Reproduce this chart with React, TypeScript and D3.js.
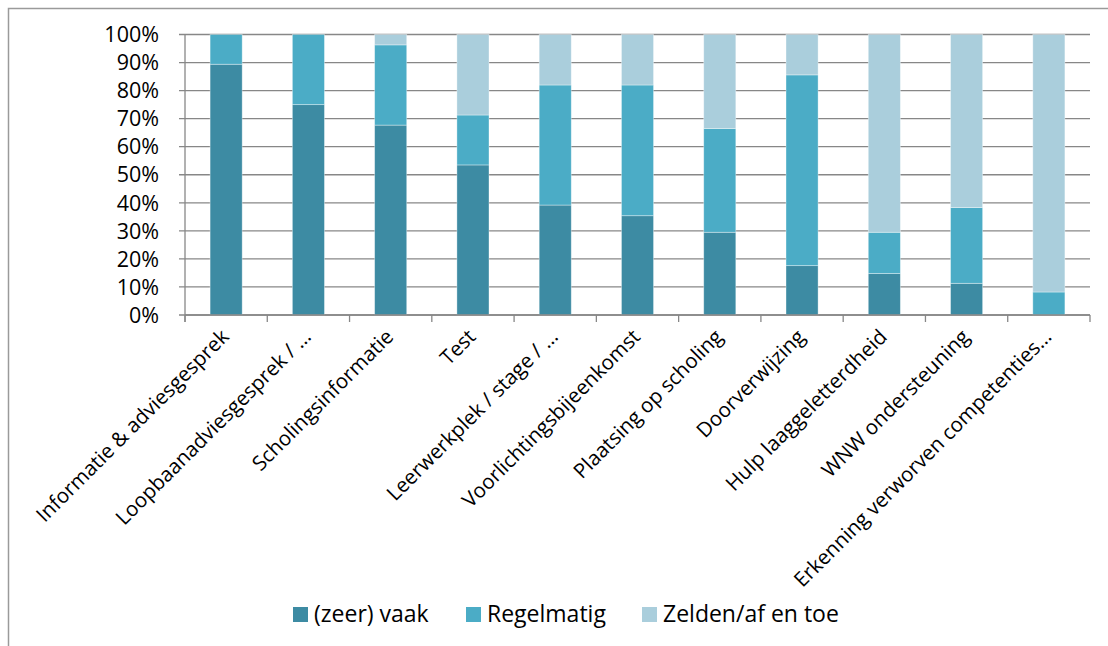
import React from "react";
import * as d3 from "d3";

const categories = [
  "Informatie & adviesgesprek",
  "Loopbaanadviesgesprek / …",
  "Scholingsinformatie",
  "Test",
  "Leerwerkplek / stage / …",
  "Voorlichtingsbijeenkomst",
  "Plaatsing op scholing",
  "Doorverwijzing",
  "Hulp laaggeletterdheid",
  "WNW ondersteuning",
  "Erkenning verworven competenties…",
];

const seriesNames = ["(zeer) vaak", "Regelmatig", "Zelden/af en toe"];
const vaak = [89.4, 75.0, 67.7, 53.5, 39.2, 35.4, 29.5, 17.6, 14.8, 11.3, 0];
const regelmatig = [10.6, 25.0, 28.6, 17.8, 42.8, 46.6, 37.0, 68.0, 14.7, 27.0, 8.2];
const zelden = [0, 0, 3.7, 28.7, 18.0, 18.0, 33.5, 14.4, 70.5, 61.7, 91.8];
const yTicks = [0, 10, 20, 30, 40, 50, 60, 70, 80, 90, 100];

const colors = ["#3D8BA3", "#4BACC6", "#AACEDC"];
const FONT = "'Open Sans', sans-serif";

export default function App() {
  const W = 1108;
  const H = 646;
  const left = 185;
  const right = 1090;
  const top = 34.5;
  const bottom = 315;

  const x = d3
    .scaleBand<string>()
    .domain(categories)
    .range([left, right])
    .paddingInner(0.61)
    .paddingOuter(0.305);
  const y = d3.scaleLinear().domain([0, 100]).range([bottom, top]);

  const rows = categories.map((c, i) => {
    const total = vaak[i] + regelmatig[i] + zelden[i];
    return {
      cat: c,
      vaak: (vaak[i] / total) * 100,
      regelmatig: (regelmatig[i] / total) * 100,
      zelden: (zelden[i] / total) * 100,
    };
  });
  const stack = d3.stack<any>().keys(["vaak", "regelmatig", "zelden"]);
  const stacked = stack(rows);

  const step = x.step();
  const boundaries = d3.range(categories.length + 1).map((i) => left + i * step);

  const legendItems = [
    { sx: 293, tx: 314 },
    { sx: 466, tx: 487 },
    { sx: 642, tx: 663 },
  ];

  return (
    <svg
      width={W}
      height={H}
      style={{ position: "absolute", left: 0, top: 0, background: "#fff" }}
    >
      <rect x={8.5} y={8.5} width={1200} height={700} fill="#fff" stroke="#9a9a9a" strokeWidth={1.5} />
      {/* gridlines */}
      {yTicks.map((t) => (
        <line
          key={"g" + t}
          x1={left - 6}
          x2={right}
          y1={y(t)}
          y2={y(t)}
          stroke="#878787"
          strokeWidth={1.3}
        />
      ))}
      {/* bars */}
      {stacked.map((s, si) => (
        <g key={si} fill={colors[si]}>
          {s.map((d, i) =>
            d[1] - d[0] > 0 ? (
              <rect
                key={i}
                x={x(categories[i])}
                width={x.bandwidth()}
                y={y(d[1])}
                height={y(d[0]) - y(d[1])}
                stroke="rgba(255,255,255,0.45)"
                strokeWidth={0.8}
              />
            ) : null
          )}
        </g>
      ))}
      {/* axes */}
      <line x1={left} x2={left} y1={top} y2={bottom + 7} stroke="#878787" strokeWidth={1.3} />
      <line x1={left} x2={right} y1={bottom} y2={bottom} stroke="#878787" strokeWidth={1.3} />
      {boundaries.map((bx, i) => (
        <line key={"t" + i} x1={bx} x2={bx} y1={bottom} y2={bottom + 7} stroke="#878787" strokeWidth={1.3} />
      ))}
      {/* y labels */}
      {yTicks.map((t) => (
        <text
          key={"yl" + t}
          x={159}
          y={y(t)}
          dy="0.36em"
          textAnchor="end"
          fontFamily={FONT}
          fontSize={21.5}
          fill="#000"
        >
          {t + "%"}
        </text>
      ))}
      {/* x labels */}
      {categories.map((c) => {
        const cx = (x(c) as number) + x.bandwidth() / 2 + 4;
        const cy = 338;
        return (
          <text
            key={c}
            x={cx}
            y={cy}
            textAnchor="end"
            fontFamily={FONT}
            fontSize={20.5}
            fill="#000"
            transform={`rotate(-45 ${cx} ${cy})`}
          >
            {c}
          </text>
        );
      })}
      {/* legend */}
      {seriesNames.map((n, i) => (
        <g key={n}>
          <rect x={legendItems[i].sx} y={607} width={15} height={15} fill={colors[i]} />
          <text x={legendItems[i].tx} y={622} fontFamily={FONT} fontSize={23} fill="#000">
            {n}
          </text>
        </g>
      ))}
    </svg>
  );
}
